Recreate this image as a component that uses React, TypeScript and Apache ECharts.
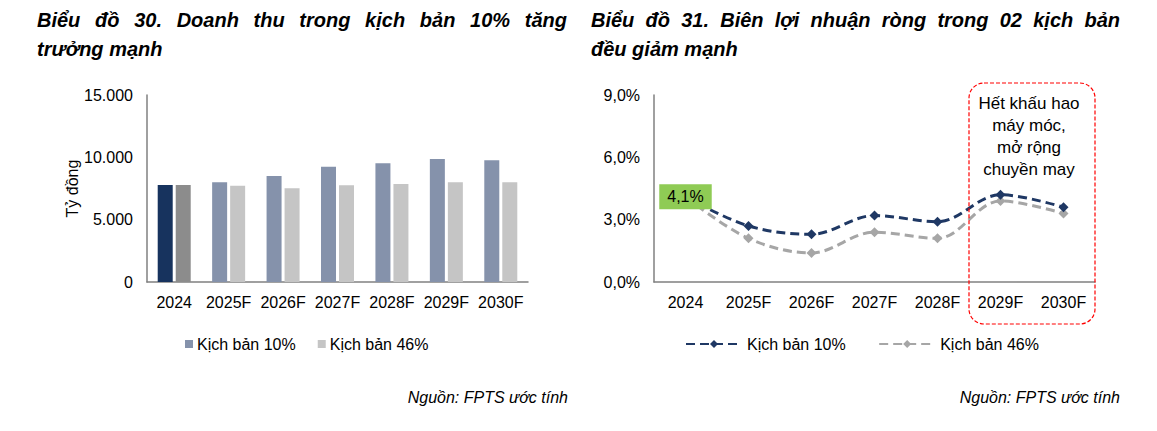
import React, { useEffect, useRef } from "react";
import * as echarts from "echarts";

const categories = ["2024", "2025F", "2026F", "2027F", "2028F", "2029F", "2030F"];
const revenue10 = [7780, 8000, 8500, 9250, 9520, 9870, 9760];
const revenue46 = [7780, 7730, 7520, 7760, 7860, 8000, 8000];
const margin10 = [4.1, 2.7, 2.3, 3.2, 2.9, 4.2, 3.6];
const margin46 = [4.1, 2.1, 1.4, 2.4, 2.1, 3.9, 3.3];
const seriesNames = ["Kịch bản 10%", "Kịch bản 46%"];
const titleLeft = ["Biểu đồ 30. Doanh thu trong kịch bản 10% tăng", "trưởng mạnh"];
const titleRight = ["Biểu đồ 31. Biên lợi nhuận ròng trong 02 kịch bản", "đều giảm mạnh"];
const sourceText = "Nguồn: FPTS ước tính";
const noteText = "Hết khấu hao\nmáy móc,\nmở rộng\nchuyền may";

const FONT = '"Liberation Sans", Arial, sans-serif';
const TITLE_FONT = 'italic bold 20px "Liberation Sans", Arial, sans-serif';

function measure(text: string, font: string): number {
  const c = document.createElement("canvas").getContext("2d");
  if (!c) return text.length * 10;
  c.font = font;
  return c.measureText(text).width;
}

function justifiedLine(line: string, x0: number, x1: number, y: number): any[] {
  const words = line.split(" ");
  const widths = words.map((w) => measure(w, TITLE_FONT));
  const total = widths.reduce((a, b) => a + b, 0);
  const gap = words.length > 1 ? (x1 - x0 - total) / (words.length - 1) : 0;
  const out: any[] = [];
  let x = x0;
  words.forEach((w, i) => {
    out.push({
      type: "text",
      x,
      y,
      style: {
        text: w,
        font: TITLE_FONT,
        fill: "#000",
        textVerticalAlign: "middle",
      },
    });
    x += widths[i] + gap;
  });
  return out;
}

function titleBlock(lines: string[], x0: number, x1: number): any[] {
  return [
    ...justifiedLine(lines[0], x0, x1, 20),
    {
      type: "text",
      x: x0,
      y: 49,
      style: { text: lines[1], font: TITLE_FONT, fill: "#000", textVerticalAlign: "middle" },
    },
  ];
}

export default function App() {
  const ref = useRef<HTMLDivElement>(null);

  useEffect(() => {
    document.body.style.margin = "0";
    if (!ref.current) return;
    const chart = echarts.init(ref.current, null, { renderer: "svg" });

    const axisLine = { show: true, lineStyle: { color: "#808080", width: 1.5 } };
    const axisLabel = { color: "#000", fontSize: 16, fontFamily: FONT, interval: 0 };

    const option: any = {
      animation: false,
      backgroundColor: "#fff",
      textStyle: { fontFamily: FONT },
      grid: [
        { left: 147, top: 95, width: 381, height: 187 },
        { left: 654, top: 95, width: 441, height: 187 },
      ],
      xAxis: [
        {
          type: "category",
          gridIndex: 0,
          data: categories,
          axisLine,
          axisTick: { show: false },
          axisLabel: { ...axisLabel, margin: 12 },
        },
        {
          type: "category",
          gridIndex: 1,
          data: categories,
          axisLine,
          axisTick: { show: false },
          axisLabel: { ...axisLabel, margin: 12 },
        },
      ],
      yAxis: [
        {
          type: "value",
          gridIndex: 0,
          min: 0,
          max: 15000,
          interval: 5000,
          axisLine,
          axisTick: { show: false },
          splitLine: { show: false },
          axisLabel: {
            ...axisLabel,
            margin: 14,
            formatter: (v: number) => (v === 0 ? "0" : v.toLocaleString("de-DE")),
          },
          name: "Tỷ đồng",
          nameLocation: "middle",
          nameGap: 66,
          nameTextStyle: { color: "#000", fontSize: 16, fontFamily: FONT },
        },
        {
          type: "value",
          gridIndex: 1,
          min: 0,
          max: 9,
          interval: 3,
          axisLine,
          axisTick: { show: false },
          splitLine: { show: false },
          axisLabel: {
            ...axisLabel,
            margin: 14,
            formatter: (v: number) => v.toFixed(1).replace(".", ",") + "%",
          },
        },
      ],
      legend: [
        {
          left: 180,
          top: 331,
          itemWidth: 8,
          itemHeight: 8,
          itemGap: 22,
          icon: "rect",
          data: [seriesNames[0], seriesNames[1]].map((n) => ({ name: n })),
          textStyle: { color: "#000", fontSize: 16, fontFamily: FONT, padding: [0, 0, 0, -1] },
          selectedMode: false,
        },
        {
          left: 680,
          top: 331,
          itemWidth: 56,
          itemHeight: 10,
          itemGap: 28,
          data: [{ name: seriesNames[0] + " " }, { name: seriesNames[1] + " " }],
          textStyle: { color: "#000", fontSize: 16, fontFamily: FONT },
          selectedMode: false,
        },
      ],
      series: [
        {
          name: seriesNames[0],
          type: "bar",
          xAxisIndex: 0,
          yAxisIndex: 0,
          barWidth: 15,
          barGap: "20%",
          itemStyle: { color: "#8592ab" },
          data: revenue10.map((v, i) => (i === 0 ? { value: v, itemStyle: { color: "#17335e" } } : v)),
        },
        {
          name: seriesNames[1],
          type: "bar",
          xAxisIndex: 0,
          yAxisIndex: 0,
          barWidth: 15,
          barGap: "20%",
          itemStyle: { color: "#c5c5c5" },
          data: revenue46.map((v, i) => (i === 0 ? { value: v, itemStyle: { color: "#8c8c8c" } } : v)),
        },
        {
          name: seriesNames[1] + " ",
          type: "line",
          xAxisIndex: 1,
          yAxisIndex: 1,
          smooth: 0.35,
          symbol: "diamond",
          symbolSize: 10,
          z: 2,
          lineStyle: { color: "#a6a6a6", width: 3, type: [9, 5] },
          itemStyle: { color: "#a6a6a6" },
          data: margin46,
        },
        {
          name: seriesNames[0] + " ",
          type: "line",
          xAxisIndex: 1,
          yAxisIndex: 1,
          smooth: 0.35,
          symbol: "diamond",
          symbolSize: 10,
          z: 3,
          lineStyle: { color: "#1f3864", width: 3, type: [9, 5] },
          itemStyle: { color: "#1f3864" },
          data: margin10.map((v, i) =>
            i === 0
              ? {
                  value: v,
                  label: {
                    show: true,
                    position: "inside",
                    formatter: (p: any) => p.value.toFixed(1).replace(".", ",") + "%",
                    backgroundColor: "#8fcb55",
                    color: "#000",
                    fontSize: 16,
                    fontFamily: FONT,
                    padding: [5, 8, 4, 8],
                  },
                }
              : v
          ),
        },
      ],
    };

    chart.setOption(option);

    const px = (i: number) => chart.convertToPixel({ xAxisIndex: 1 }, i) as number;
    const py = (v: number) => chart.convertToPixel({ yAxisIndex: 1 }, v) as number;
    const boxLeft = (px(4) + px(5)) / 2;
    const boxRight = px(6) + (px(6) - px(5)) / 2;
    const boxTop = py(9) - 12;
    const boxBottom = py(0) + 42;

    const graphics: any[] = [
      ...titleBlock(titleLeft, 37, 567),
      ...titleBlock(titleRight, 591, 1120),
      {
        type: "text",
        x: 568,
        y: 397,
        style: {
          text: sourceText,
          font: 'italic 16px "Liberation Sans", Arial, sans-serif',
          fill: "#000",
          textAlign: "right",
          textVerticalAlign: "middle",
        },
      },
      {
        type: "text",
        x: 1120,
        y: 397,
        style: {
          text: sourceText,
          font: 'italic 16px "Liberation Sans", Arial, sans-serif',
          fill: "#000",
          textAlign: "right",
          textVerticalAlign: "middle",
        },
      },
      {
        type: "rect",
        z: 10,
        shape: { x: boxLeft, y: boxTop, width: boxRight - boxLeft, height: boxBottom - boxTop, r: 15 },
        style: { fill: "none", stroke: "#ff0000", lineWidth: 1.2, lineDash: [4, 2] },
      },
      {
        type: "text",
        z: 10,
        x: (boxLeft + boxRight) / 2 - 3,
        y: boxTop + 9,
        style: {
          text: noteText,
          font: '17px "Liberation Sans", Arial, sans-serif',
          lineHeight: 22,
          fill: "#000",
          textAlign: "center",
          textVerticalAlign: "top",
        },
      },
    ];

    chart.setOption({ graphic: graphics });

    return () => chart.dispose();
  }, []);

  return (
    <div
      ref={ref}
      style={{ position: "absolute", left: 0, top: 0, width: 1157, height: 431 }}
    />
  );
}
